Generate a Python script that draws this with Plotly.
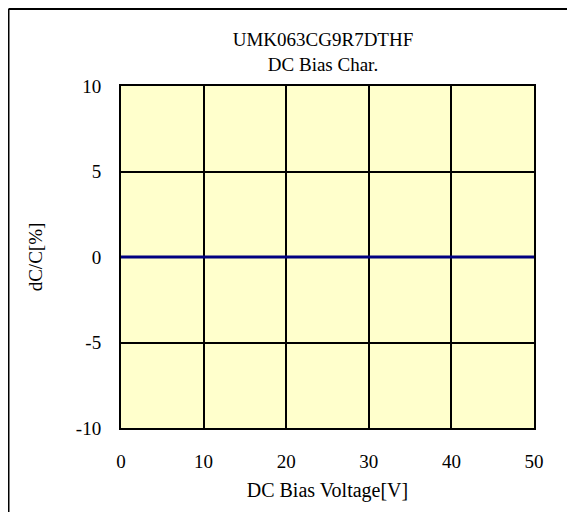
import plotly.graph_objects as go

# Data
bias_voltage = [0, 5, 10, 15, 20, 25, 30, 35, 40, 45, 50]
dc_change = [0, 0, 0, 0, 0, 0, 0, 0, 0, 0, 0]
x_ticks = [0, 10, 20, 30, 40, 50]
y_ticks = [-10, -5, 0, 5, 10]
y_tick_labels = ["-10", "-5", "0", "5", "10"]

FONT = "Liberation Serif"
FS = 19

fig = go.Figure()
fig.add_trace(go.Scatter(
    x=bias_voltage, y=dc_change, mode="lines",
    line=dict(color="#000080", width=3), showlegend=False,
    hoverinfo="skip",
))

# page body adds an 8px margin; keep the figure inside the window
W, H = 559, 504
L, T = 113, 78
pw, ph = 413, 342
R, B = W - L - pw, H - T - ph

fig.update_layout(
    width=W, height=H,
    margin=dict(l=L, r=R, t=T, b=B, autoexpand=False),
    paper_bgcolor="white",
    plot_bgcolor="#FFFFCC",
    font=dict(family=FONT, size=FS, color="black"),
    title=dict(
        text="UMK063CG9R7DTHF<br>DC Bias Char.",
        x=315 / W, xanchor="center",
        y=1 - 38 / H, yanchor="middle",
        font=dict(family=FONT, size=FS, color="black"),
    ),
    xaxis=dict(
        range=[0, 50], tickvals=x_ticks, showgrid=True,
        gridcolor="black", gridwidth=1.5, zeroline=False,
        showline=True, linecolor="black", linewidth=2, mirror=True,
        ticks="", ticklabelstandoff=15, automargin=False,
        title=dict(text="DC Bias Voltage[V]", standoff=12,
                   font=dict(family=FONT, size=FS + 1)),
        tickfont=dict(family=FONT, size=FS),
    ),
    yaxis=dict(
        range=[-10, 10], tickvals=y_ticks, ticktext=y_tick_labels,
        showgrid=True, automargin=False,
        gridcolor="black", gridwidth=1.5, zeroline=False,
        showline=True, linecolor="black", linewidth=2, mirror=True,
        ticks="", ticklabelstandoff=14,
        title=dict(text="dC/C[%]", standoff=28,
                   font=dict(family=FONT, size=FS)),
        tickfont=dict(family=FONT, size=FS),
    ),
)

# Outer frame: only its left and top edges fall within the picture
fx0 = (0.5 - L) / pw
fy1 = 1 + (T - 1) / ph
fig.add_shape(type="line", xref="paper", yref="paper",
              x0=fx0, x1=fx0, y0=-1, y1=fy1,
              line=dict(color="black", width=2), layer="below")
fig.add_shape(type="line", xref="paper", yref="paper",
              x0=fx0, x1=2, y0=fy1, y1=fy1,
              line=dict(color="black", width=2), layer="below")

fig.write_html("out.html")
